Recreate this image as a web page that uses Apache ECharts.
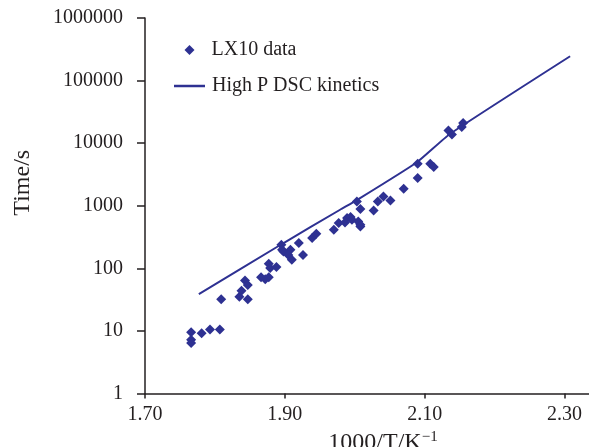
<!DOCTYPE html>
<html>
<head>
<meta charset="utf-8">
<script src="https://cdn.jsdelivr.net/npm/echarts@6/dist/echarts.min.js"></script>
<style>
  html, body { margin: 0; padding: 0; background: #fff; }
  #chart { width: 589px; height: 447px; }
</style>
</head>
<body>
<div id="chart"></div>
<script>
// LX10 measured points: 1000/T and time (s)
var lxX = [1.766, 1.766, 1.766, 1.781, 1.793, 1.807, 1.809, 1.835, 1.838, 1.843,
  1.847, 1.847, 1.866, 1.872, 1.877, 1.877, 1.879, 1.888, 1.895, 1.896,
  1.898, 1.908, 1.905, 1.910, 1.920, 1.926, 1.939, 1.945, 1.970, 1.977,
  1.986, 1.989, 1.994, 1.996, 2.003, 2.008, 2.005, 2.008, 2.008, 2.027,
  2.033, 2.041, 2.051, 2.070, 2.090, 2.090, 2.108, 2.113, 2.134, 2.139,
  2.153, 2.155];
var lxTime = [9.5, 7.2, 6.4, 9.2, 10.5, 10.5, 32, 35, 44, 64,
  54, 32, 72, 67, 72, 118, 101, 105, 238, 198,
  186, 198, 164, 137, 253, 164, 304, 357, 413, 528,
  541, 635, 659, 597, 1172, 885, 561, 497, 467, 841,
  1172, 1409, 1216, 1871, 2772, 4700, 4700, 4160, 16000, 13700,
  18200, 21000];

// High P DSC kinetics curve
var dscX = [1.777, 1.894, 1.979, 2.003, 2.089, 2.136, 2.308];
var dscTime = [38.7, 238, 863, 1230, 4950, 14000, 245000];

var xTicks = [1.70, 1.90, 2.10, 2.30];

var ink = "#231f20";
var blue = "#2e3192";
var font = "'Liberation Serif', 'DejaVu Serif', serif";
var fs = 20;

function pairs(xs, ys) {
  var out = [];
  for (var i = 0; i < xs.length; i++) out.push([xs[i], ys[i]]);
  return out;
}

var chart = echarts.init(document.getElementById("chart"));
var option = {
  animation: false,
  textStyle: { fontFamily: font, color: ink },
  grid: { left: 145, right: 0, top: 18, bottom: 53.5, outerBoundsMode: "none", containLabel: false },
  legend: [
    {
      left: 179.5,
      top: 35,
      itemWidth: 10,
      itemHeight: 10,
      textStyle: { fontFamily: font, fontSize: fs, color: ink, padding: [0, 0, 0, 12] },
      data: [{ name: "LX10 data", icon: "diamond" }]
    },
    {
      left: 169,
      top: 71,
      itemWidth: 31,
      itemHeight: 2.5,
      textStyle: { fontFamily: font, fontSize: fs, color: ink, padding: [0, 0, 0, 2] },
      data: [{ name: "High P DSC kinetics", icon: "rect" }]
    }
  ],
  xAxis: {
    type: "value",
    min: 1.7,
    max: 2.335,
    interval: 0.2,
    name: "1000/T/K{sup|−1}",
    nameLocation: "middle",
    nameGap: 36,
    nameTextStyle: {
      fontFamily: font, fontSize: 24, color: ink, padding: [0, 0, 0, 32],
      rich: { sup: { fontFamily: font, fontSize: 15, color: ink, padding: [0, 0, 12, 0] } }
    },
    axisLine: { lineStyle: { color: ink, width: 1.5 } },
    axisTick: { show: true, length: 5, customValues: xTicks, lineStyle: { color: ink, width: 1.5 } },
    axisLabel: {
      customValues: xTicks,
      margin: 11,
      fontFamily: font, fontSize: fs, color: ink,
      formatter: function (v) { return v.toFixed(2); }
    },
    splitLine: { show: false }
  },
  yAxis: {
    type: "log",
    logBase: 10,
    min: 1,
    max: 1000000,
    name: "Time/s",
    nameLocation: "middle",
    nameGap: 110,
    nameTextStyle: { fontFamily: font, fontSize: 24, color: ink, padding: [0, 0, 0, 46] },
    axisLine: { lineStyle: { color: ink, width: 1.5 } },
    axisTick: { show: true, length: 8, lineStyle: { color: ink, width: 1.5 } },
    axisLabel: {
      margin: 22,
      fontFamily: font, fontSize: fs, color: ink,
      formatter: function (v) { return String(Math.round(v)); }
    },
    splitLine: { show: false }
  },
  series: [
    {
      name: "LX10 data",
      type: "scatter",
      symbol: "diamond",
      symbolSize: 10,
      itemStyle: { color: blue, opacity: 1 },
      data: pairs(lxX, lxTime)
    },
    {
      name: "High P DSC kinetics",
      type: "line",
      symbol: "none",
      smooth: 0.15,
      lineStyle: { color: blue, width: 2 },
      itemStyle: { color: blue },
      data: pairs(dscX, dscTime)
    }
  ]
};
chart.setOption(option);
</script>
</body>
</html>
